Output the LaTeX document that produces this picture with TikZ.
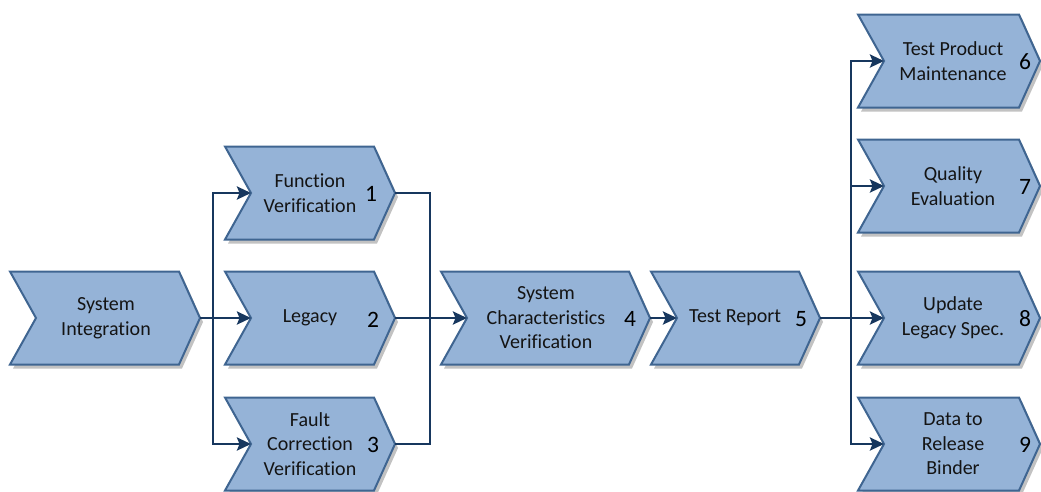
\documentclass[tikz,border=0pt]{standalone}
\usepackage{fontspec}
\setmainfont{Carlito}[Ligatures={NoCommon}]
\usetikzlibrary{arrows.meta,shadows}

\definecolor{chevfill}{HTML}{95B3D7}
\definecolor{chevline}{HTML}{3F6591}
\definecolor{wire}{HTML}{17375E}
\definecolor{label}{HTML}{141414}

\tikzset{
  chev/.style={fill=chevfill, draw=chevline, line width=2pt, line join=miter,
    drop shadow={shadow xshift=3pt, shadow yshift=-4pt, opacity=0.4, fill=black!60}},
  lbl/.style={text=label, align=center, inner sep=0pt,
    font=\fontsize{20}{24.5}\selectfont},
  num/.style={text=black, inner sep=0pt, font=\fontsize{23.5}{24}\selectfont},
  wireline/.style={draw=wire, line width=2.6pt},
  arr/.style={wireline, -{Stealth[length=14pt,width=13pt,inset=2.5pt]}},
}

% \chevshape{name}{left x}{right x}{centre y}
% draws one chevron and sets coordinates name-in (notch) and name-out (tip)
\newcommand{\chevshape}[4]{%
  \path[chev] (#2,#4-46.5) -- (#3-21,#4-46.5) -- (#3,#4) -- (#3-21,#4+46.5)
    -- (#2,#4+46.5) -- (#2+26,#4) -- cycle;
  \coordinate (#1-in) at (#2+26,#4);
  \coordinate (#1-out) at (#3,#4);
}

\begin{document}
\begin{tikzpicture}[x=1pt,y=-1pt]
\useasboundingbox (0,0) rectangle (1041,491);

% chevrons
\chevshape{si}{10}{200}{318}
\chevshape{fv}{225}{395}{193}
\chevshape{lg}{225}{395}{318}
\chevshape{fc}{225}{395}{444}
\chevshape{sc}{441}{650}{318}
\chevshape{tr}{651}{820}{318}
\chevshape{tp}{858}{1040}{61}
\chevshape{qe}{858}{1040}{186}
\chevshape{ul}{858}{1040}{318}
\chevshape{dr}{858}{1040}{444}

% labels
\node[lbl] (si) at (106,318) {System\\Integration};
\node[lbl] (fv) at (310,193) {Function\\Verification};
\node[num] (fv-n) at (371,194) {1};
\node[lbl] (lg) at (310,318) {Legacy};
\node[num] (lg-n) at (373,320) {2};
\node[lbl] (fc) at (310,444) {Fault\\Correction\\Verification};
\node[num] (fc-n) at (373,445) {3};
\node[lbl] (sc) at (546,318) {System\\Characteristics\\Verification};
\node[num] (sc-n) at (630,319) {4};
\node[lbl] (tr) at (735,318) {Test Report};
\node[num] (tr-n) at (801,319) {5};
\node[lbl] (tp) at (953,61) {Test Product\\Maintenance};
\node[num] (tp-n) at (1025,62) {6};
\node[lbl] (qe) at (953,186) {Quality\\Evaluation};
\node[num] (qe-n) at (1025,187) {7};
\node[lbl] (ul) at (953,318) {Update\\Legacy Spec.};
\node[num] (ul-n) at (1025,319) {8};
\node[lbl] (dr) at (953,444) {Data to\\Release\\Binder};
\node[num] (dr-n) at (1025,445) {9};

% junction points of the connectors
\coordinate (j1) at (213,318);
\coordinate (j2) at (430,318);
\coordinate (j3) at (851,318);

% connectors
\draw[arr] (si-out) -- (lg-in);
\draw[arr] (j1) |- (fv-in);
\draw[arr] (j1) |- (fc-in);

\draw[wireline] (fv-out) -| (j2);
\draw[wireline] (fc-out) -| (j2);
\draw[arr] (lg-out) -- (sc-in);

\draw[arr] (sc-out) -- (tr-in);

\draw[arr] (tr-out) -- (ul-in);
\draw[arr] (j3) |- (tp-in);
\draw[arr] (j3) |- (qe-in);
\draw[arr] (j3) |- (dr-in);
\end{tikzpicture}
\end{document}
